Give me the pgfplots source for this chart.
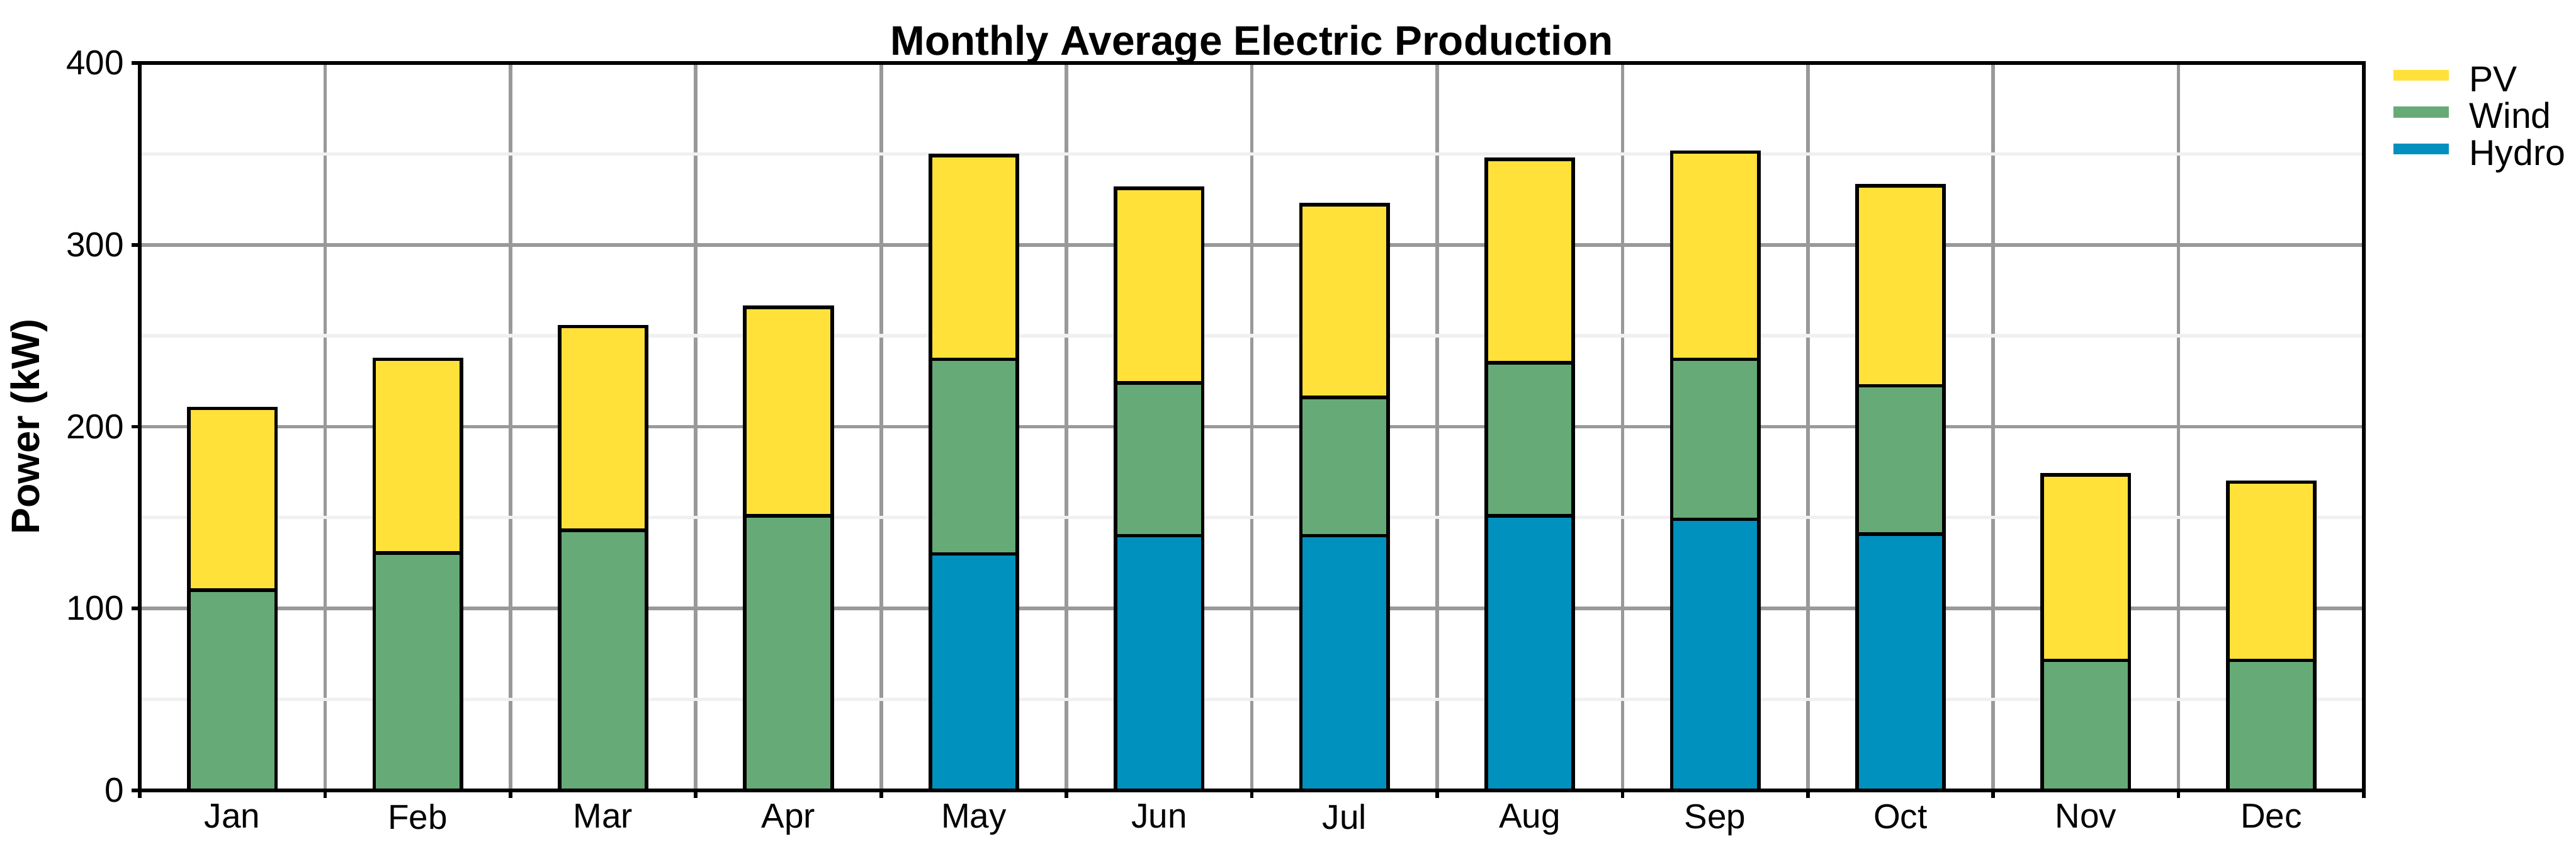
\documentclass[border=0pt]{standalone}
\usepackage{fontspec}
\setmainfont{Liberation Sans}
\usepackage{pgfplots}
\usepackage{pgfplotstable}
\pgfplotsset{compat=1.18}

\definecolor{pvc}{HTML}{FFE13A}
\definecolor{windc}{HTML}{66AA77}
\definecolor{hydroc}{HTML}{0091BE}
\definecolor{gridmaj}{HTML}{999999}
\definecolor{gridmin}{HTML}{F0F0F0}

% monthly average production, kW (stack increments)
\pgfplotstableread{
m  hydro wind  pv
1  0     110   100
2  0     130.5 106.5
3  0     143   112
4  0     151   114.5
5  130   107   112
6  140   84    107
7  140   76    106
8  151   84    112
9  149   88    114
10 141   81.5  110
11 0     71.5  102
12 0     71.5  98
}\production

\begin{document}
\begin{tikzpicture}
\begin{axis}[
    scale only axis,
    width=618.3pt, height=202.1pt,
    ybar stacked, bar width=0.47,
    xmin=0.5, xmax=12.5,
    ymin=0, ymax=400,
    xtick={0.5,1.5,...,12.5},
    x tick label as interval,
    xticklabels={Jan,Feb,Mar,Apr,May,Jun,Jul,Aug,Sep,Oct,Nov,Dec},
    ytick={0,100,...,400},
    minor y tick num=1,
    xmajorgrids, ymajorgrids, yminorgrids,
    major grid style={gridmaj, line width=1pt},
    minor grid style={gridmin, line width=0.9pt},
    minor tick length=0pt,
    tick align=outside,
    xtick pos=bottom, ytick pos=left,
    major tick length=2.2pt,
    major tick style={black, line width=1pt},
    axis line style={black, line width=1pt},
    /pgf/number format/assume math mode=true,
    ticklabel style={font=\fontsize{9.6}{11}\selectfont},
    yticklabel style={inner sep=2pt},
    xticklabel style={inner sep=1.5pt},
    title={Monthly Average Electric Production},
    title style={font=\fontsize{11.5}{13}\selectfont\bfseries, at={(0.5,1)}, anchor=base, inner sep=0pt, yshift=-3.8pt},
    ylabel={Power (kW)},
    ylabel style={font=\fontsize{11}{13}\selectfont\bfseries, at={(0,0.5)}, anchor=center, yshift=30.8pt},
    reverse legend,
    legend style={at={(1,1)}, anchor=north west, xshift=3.5pt, yshift=1.5pt,
        draw=none, fill=none, font=\fontsize{10}{12}\selectfont,
        row sep=0pt,
        nodes={inner sep=0pt, text height=7.2pt, text depth=3.1pt}},
    legend cell align=left,
    /tikz/every odd column/.append style={column sep=4.2pt},
]
\addplot[fill=hydroc, draw=black, line width=1pt,
    legend image code/.code={\draw[line width=3pt, hydroc] (0pt,2.5pt) -- (15.4pt,2.5pt);}]
    table[x=m, y=hydro] {\production};
\addlegendentry{Hydro}
\addplot[fill=windc, draw=black, line width=1pt,
    legend image code/.code={\draw[line width=3pt, windc] (0pt,2.5pt) -- (15.4pt,2.5pt);}]
    table[x=m, y=wind] {\production};
\addlegendentry{Wind}
\addplot[fill=pvc, draw=black, line width=1pt,
    legend image code/.code={\draw[line width=3pt, pvc] (0pt,2.5pt) -- (15.4pt,2.5pt);}]
    table[x=m, y=pv] {\production};
\addlegendentry{PV}
\coordinate (sw) at (rel axis cs:0,0);
\coordinate (ne) at (rel axis cs:1,1);
\end{axis}
\pgfresetboundingbox
\path ([shift={(-38.85pt,-21pt)}]sw) rectangle ([shift={(58.98pt,17.5pt)}]ne);
\end{tikzpicture}
\end{document}
